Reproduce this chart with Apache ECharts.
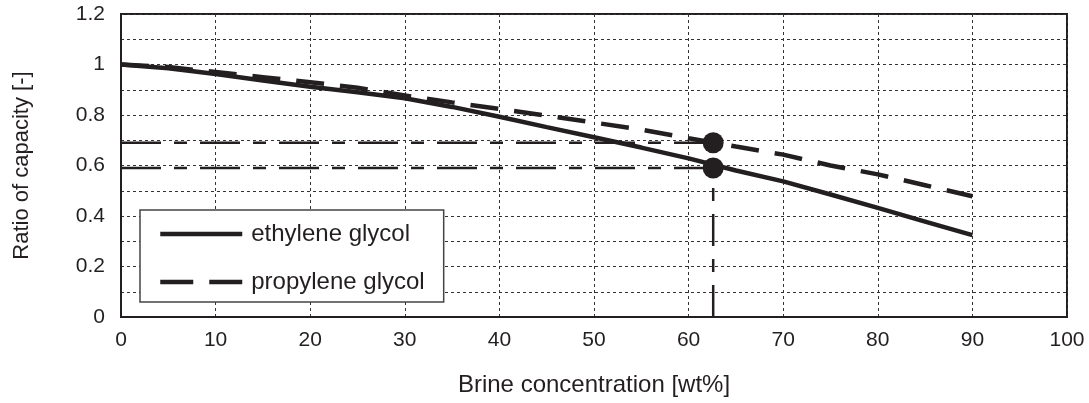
<!DOCTYPE html>
<html>
<head>
<meta charset="utf-8">
<script src="https://cdn.jsdelivr.net/npm/echarts@6/dist/echarts.min.js"></script>
<style>
html,body{margin:0;padding:0;background:#fff;}
#chart{width:1089px;height:403px;}
</style>
</head>
<body>
<div id="chart"></div>
<script>
// ---- data ----
const concentration = [0, 5, 10, 15, 20, 25, 30, 35, 40, 45, 50, 55, 60, 65, 70, 75, 80, 85, 90];
const ethyleneRatio = [1.0, 0.985, 0.962, 0.937, 0.912, 0.89, 0.866, 0.832, 0.793, 0.752, 0.712, 0.671, 0.628, 0.58, 0.537, 0.485, 0.432, 0.378, 0.324];
const propyleneRatio = [1.0, 0.99, 0.97, 0.95, 0.93, 0.908, 0.877, 0.85, 0.824, 0.797, 0.77, 0.742, 0.708, 0.675, 0.643, 0.6, 0.565, 0.522, 0.478];
const markX = 62.6;
const markY = [0.69, 0.59];
const seriesNames = ['ethylene glycol', 'propylene glycol'];
const xTicks = [0, 10, 20, 30, 40, 50, 60, 70, 80, 90, 100];
const yTickLabels = ['0', '0.2', '0.4', '0.6', '0.8', '1', '1.2'];
const xAxisTitle = 'Brine concentration [wt%]';
const yAxisTitle = 'Ratio of capacity [-]';

const ink = '#231f20';
const font = '"Liberation Sans", Arial, sans-serif';

const ethPairs = concentration.map((x, i) => [x, ethyleneRatio[i]]);
const proPairs = concentration.map((x, i) => [x, propyleneRatio[i]]);

const chart = echarts.init(document.getElementById('chart'), null, {renderer: 'canvas'});
chart.setOption({
  animation: false,
  backgroundColor: '#fff',
  textStyle: {fontFamily: font, color: ink},
  grid: {
    left: 121, right: 22, top: 14, bottom: 86,
    show: true, borderColor: ink, borderWidth: 2, backgroundColor: 'transparent'
  },
  legend: {
    orient: 'vertical',
    left: 140, top: 210,
    padding: [12, 19, 8, 18],
    itemWidth: 82, itemHeight: 24, itemGap: 24,
    backgroundColor: '#fff',
    borderColor: '#444', borderWidth: 1.5, borderRadius: 0,
    itemStyle: {opacity: 0, borderWidth: 0},
    lineStyle: {width: 4.5, color: ink},
    textStyle: {fontSize: 24, color: ink, fontFamily: font, padding: [0, 0, 0, 4]},
    data: [
      {name: seriesNames[0]},
      {name: seriesNames[1], lineStyle: {width: 4.5, type: [33, 16], color: ink}}
    ]
  },
  xAxis: {
    type: 'value', min: xTicks[0], max: xTicks[xTicks.length - 1], interval: xTicks[1] - xTicks[0],
    name: xAxisTitle, nameLocation: 'middle', nameGap: 56,
    nameTextStyle: {fontSize: 24, color: ink, fontFamily: font},
    axisLine: {show: true, lineStyle: {color: ink, width: 2}},
    axisTick: {show: false},
    axisLabel: {fontSize: 21, color: ink, margin: 13, fontFamily: font},
    splitLine: {show: true, lineStyle: {color: '#333', width: 1, type: [3, 3]}}
  },
  yAxis: {
    type: 'value', min: 0, max: 1.2, interval: 0.1,
    name: yAxisTitle, nameLocation: 'middle', nameGap: 88,
    nameTextStyle: {fontSize: 22, color: ink, fontFamily: font},
    axisLine: {show: true, lineStyle: {color: ink, width: 2}},
    axisTick: {show: false},
    axisLabel: {
      fontSize: 21, color: ink, margin: 16, fontFamily: font,
      formatter: function (v) {
        const k = Math.round(v * 10);
        return k % 2 === 0 ? yTickLabels[k / 2] : '';
      }
    },
    splitLine: {show: true, lineStyle: {color: '#333', width: 1, type: [3, 3]}}
  },
  series: [
    {
      name: 'ref1', type: 'line', data: [[0, markY[0]], [markX, markY[0]]],
      symbol: 'none', silent: true, z: 2,
      lineStyle: {color: ink, width: 2.5, type: [40, 13, 13, 13]}
    },
    {
      name: 'ref2', type: 'line', data: [[0, markY[1]], [markX, markY[1]]],
      symbol: 'none', silent: true, z: 2,
      lineStyle: {color: ink, width: 2.5, type: [40, 13, 13, 13]}
    },
    {
      name: 'ref3', type: 'line', data: [[markX, 0], [markX, markY[1]]],
      symbol: 'none', silent: true, z: 2,
      lineStyle: {color: ink, width: 2.5, type: [32, 13, 13, 13]}
    },
    {
      name: seriesNames[0], type: 'line', data: ethPairs,
      symbol: 'none', z: 3,
      lineStyle: {color: ink, width: 4.5, type: 'solid'},
      itemStyle: {color: ink}
    },
    {
      name: seriesNames[1], type: 'line', data: proPairs,
      symbol: 'none', z: 3,
      lineStyle: {color: ink, width: 4.5, type: [28, 16]},
      itemStyle: {color: ink}
    },
    {
      name: 'marks', type: 'scatter', data: markY.map(y => [markX, y]),
      symbol: 'circle', symbolSize: 21, z: 4,
      itemStyle: {color: ink, opacity: 1}
    }
  ]
});
</script>
</body>
</html>
